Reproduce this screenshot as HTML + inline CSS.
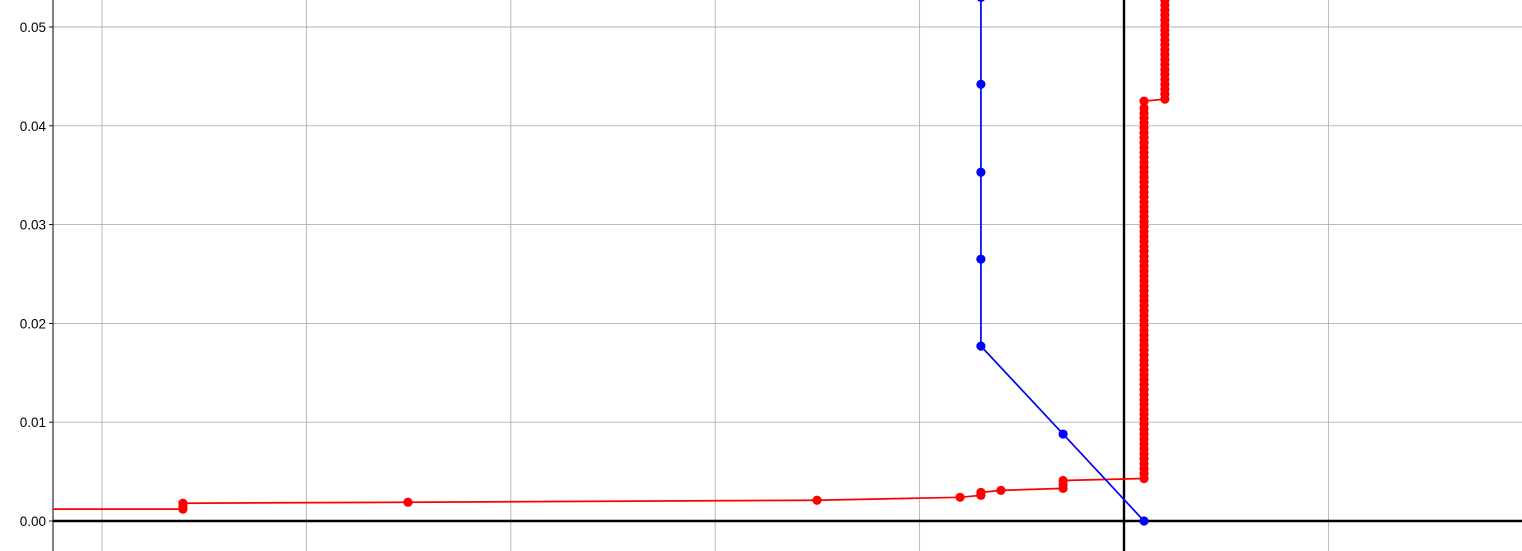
<!DOCTYPE html>
<html><head><meta charset="utf-8"><style>
html,body{margin:0;padding:0;background:#fff;}
svg{display:block;font-family:"Liberation Sans","DejaVu Sans",sans-serif;}
</style></head><body>
<svg id="chart" width="1522" height="551"></svg>
<script>
const yTicks=[0,0.01,0.02,0.03,0.04,0.05];
const yTickLabels=["0.00","0.01","0.02","0.03","0.04","0.05"];
const xGrid=[-5,-4,-3,-2,-1,0,1];
const blueX=[-0.7,-0.7,-0.7,-0.7,-0.7,-0.7,-0.298,0.098];
const blueY=[0.0619,0.053,0.0442,0.0353,0.0265,0.0177,0.0088,0.0];
const redX=[-5.5,-4.604,-4.604,-4.604,-3.503,-1.502,-0.802,-0.700,-0.700,-0.700,-0.602,-0.298,-0.298,-0.298];
const redY=[0.0012,0.0012,0.0015,0.0018,0.0019,0.0021,0.0024,0.0026,0.00275,0.0029,0.0031,0.0033,0.0037,0.0041];
const col1X=0.098;
const col1Y=[0.0043,0.0048,0.0053,0.0058,0.0063,0.0068,0.0073,0.0078,0.0083,0.0088,0.0093,0.0098,0.0103,0.0108,0.0113,0.0118,0.0123,0.0128,0.0133,0.0138,0.0143,0.0148,0.0153,0.0158,0.0163,0.0168,0.0173,0.0178,0.0183,0.0188,0.0193,0.0198,0.0203,0.0208,0.0213,0.0218,0.0223,0.0228,0.0233,0.0238,0.0243,0.0248,0.0253,0.0258,0.0263,0.0268,0.0273,0.0278,0.0283,0.0288,0.0293,0.0298,0.0303,0.0308,0.0313,0.0318,0.0323,0.0328,0.0333,0.0338,0.0343,0.0348,0.0353,0.0358,0.0363,0.0368,0.0373,0.0378,0.0383,0.0388,0.0393,0.0398,0.0403,0.0408,0.0413,0.0418,0.0425];
const col2X=0.2;
const col2Y=[0.0427,0.0432,0.0437,0.0442,0.0447,0.0452,0.0457,0.0462,0.0467,0.0472,0.0477,0.0482,0.0487,0.0492,0.0497,0.0502,0.0507,0.0512,0.0517,0.0522,0.0527,0.0532,0.0537,0.0542,0.0547,0.0552,0.0557];

const NS="http://www.w3.org/2000/svg";
const svg=document.getElementById('chart');
const L=53,R=1522,T=0,B=551;
function sx(v){return 1124+v*204.4;}
function sy(v){return 521-v*9880;}
function mk(t,a,p){const e=document.createElementNS(NS,t);for(const k in a)e.setAttribute(k,a[k]);(p||svg).appendChild(e);return e;}

const defs=mk('defs',{});
const cp=mk('clipPath',{id:'clip'},defs);
mk('rect',{x:L,y:T,width:R-L,height:B-T},cp);

const grid=mk('g',{});


xGrid.forEach(v=>{const l=mk('line',{x1:sx(v),x2:sx(v),y1:T,y2:B,stroke:'#b0b0b0','stroke-width':0.9},grid);

});
yTicks.forEach((v,i)=>{const l=mk('line',{x1:L,x2:R,y1:sy(v),y2:sy(v),stroke:'#b0b0b0','stroke-width':0.9},grid);


const t=mk('line',{x1:L-4,x2:L,y1:sy(v),y2:sy(v),stroke:'#000','stroke-width':0.9});


const tx=mk('text',{x:L-7,y:sy(v)+5,'text-anchor':'end','font-size':13.5,fill:'#000'});
tx.textContent=yTickLabels[i];

});

const xa=mk('line',{x1:L,x2:R,y1:sy(0),y2:sy(0),stroke:'#000','stroke-width':2.4});


const ya=mk('line',{x1:sx(0),x2:sx(0),y1:T,y2:B,stroke:'#000','stroke-width':2.4});


const sp=mk('line',{x1:L,x2:L,y1:T,y2:B,stroke:'#000','stroke-width':1});



const plot=mk('g',{'clip-path':'url(#clip)'});
function series(xs,ys,color,name){
  const g=mk('g',{},plot);
  
  
  const pts=xs.map((x,i)=>sx(x)+','+sy(ys[i])).join(' ');
  mk('polyline',{points:pts,fill:'none',stroke:color,'stroke-width':1.7},g);
  xs.forEach((x,i)=>{const c=mk('circle',{cx:sx(x),cy:sy(ys[i]),r:4.6,fill:color},g);
  
  });
}
const rx=redX.concat(col1Y.map(()=>col1X),col2Y.map(()=>col2X));
const ry=redY.concat(col1Y,col2Y);
series(rx,ry,'#ff0000','red-series');
series(blueX,blueY,'#0000ff','blue-series');
</script>
</body></html>
